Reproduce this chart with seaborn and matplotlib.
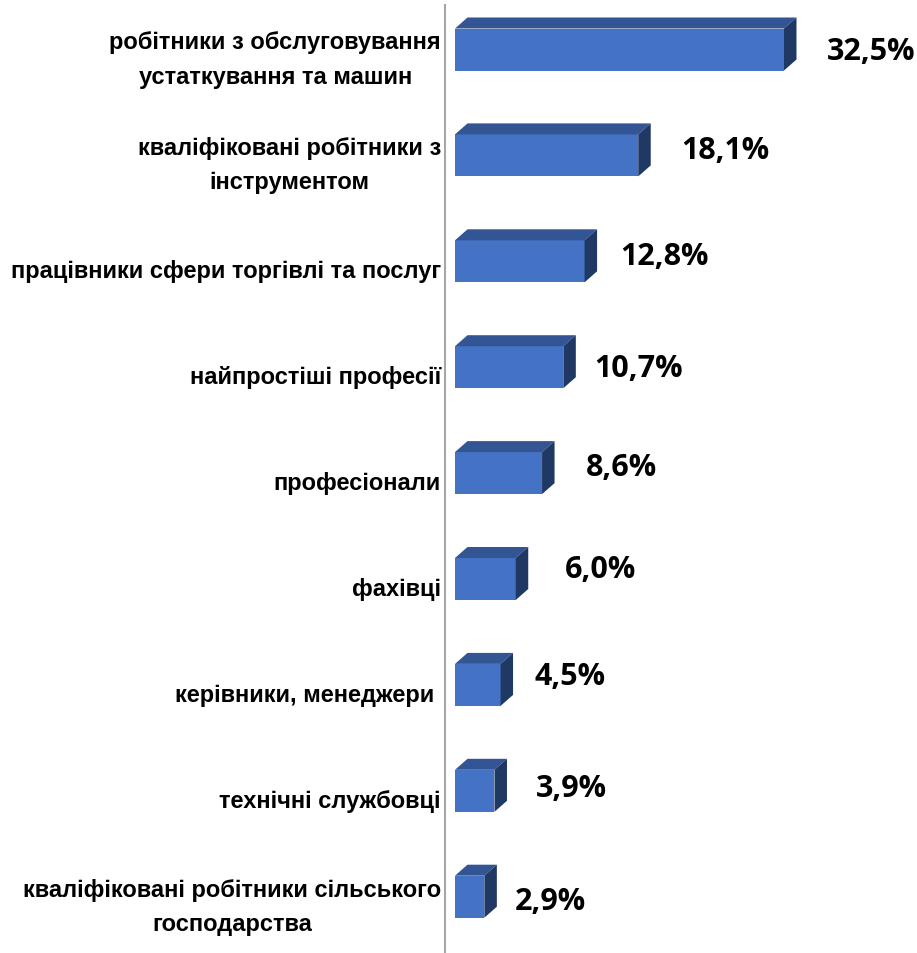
import matplotlib
matplotlib.use("Agg")
import matplotlib.pyplot as plt
from matplotlib.patches import Polygon
from matplotlib.transforms import ScaledTranslation
import seaborn as sns
import pandas as pd

categories = ["робітники з обслуговування\nустаткування та машин",
              "кваліфіковані робітники з\nінструментом",
              "працівники сфери торгівлі та послуг",
              "найпростіші професії",
              "професіонали",
              "фахівці",
              "керівники, менеджери ",
              "технічні службовці",
              "кваліфіковані робітники сільського\nгосподарства"]
values = [32.5, 18.1, 12.8, 10.7, 8.6, 6.0, 4.5, 3.9, 2.9]
value_labels = ["32,5%", "18,1%", "12,8%", "10,7%", "8,6%", "6,0%", "4,5%", "3,9%", "2,9%"]

# label placement relative to the end of each bar, in pixels
label_dx = [43, 43, 35.5, 31, 44, 49, 33.5, 41.5, 30]
label_dy = [-1, 5, 5, -0.5, 6, 10.5, 9, 3, -4]

W, H = 917, 954
X0, LINE_X, TOP = 455, 445, 6      # bar origin, axis line, top of axis line
PX_PER_UNIT = 329 / 32.5
SLOT, FIRST = 105.9, 50.5
DEPTH_X, DEPTH_Y = 12.5, 11
BAR_H = 42

sns.set_theme(style="white")
plt.rcParams['font.family'] = ['Liberation Sans', 'DejaVu Sans']

df = pd.DataFrame({"cat": categories, "val": values})
fig = plt.figure(figsize=(W / 100, H / 100), dpi=100)
ax = fig.add_axes([X0 / W, 0, (W - X0) / W, 1 - TOP / H])
ax.patch.set_alpha(0)
sns.barplot(data=df, y="cat", x="val", color="#4472C4", width=BAR_H / SLOT,
            saturation=1, linewidth=0, ax=ax, orient="h")
ax.set_xlim(0, (W - X0) / PX_PER_UNIT)
ax.set_ylim((H - FIRST) / SLOT, (TOP - FIRST) / SLOT)
ax.set_xlabel("")
ax.set_ylabel("")
ax.set_xticks([])

for name, s in ax.spines.items():
    s.set_visible(name == "left")
ax.spines["left"].set_position(("outward", (X0 - LINE_X) * 0.72))
ax.spines["left"].set_color("#A6A6A6")
ax.spines["left"].set_linewidth(1.5)

ax.tick_params(axis="y", length=0, pad=2.9)
shift = ScaledTranslation(0, -9.5 / 100, fig.dpi_scale_trans)
for lab in ax.get_yticklabels():
    lab.set_fontsize(17)
    lab.set_fontweight("bold")
    lab.set_color("black")
    lab.set_ha("right")
    lab.set_va("center")
    lab.set_multialignment("center")
    lab.set_linespacing(1.62)
    lab.set_transform(lab.get_transform() + shift)

dx = DEPTH_X / PX_PER_UNIT
dy = DEPTH_Y / SLOT
half = BAR_H / SLOT / 2
for i, v in enumerate(values):
    top, bot = i - half, i + half
    ax.add_patch(Polygon([(0, top), (dx, top - dy), (v + dx, top - dy), (v, top)],
                         closed=True, fc="#335593", ec="none"))
    ax.add_patch(Polygon([(v, top), (v + dx, top - dy), (v + dx, bot - dy), (v, bot)],
                         closed=True, fc="#203864", ec="none"))
    ax.annotate(value_labels[i], xy=(v, i), xytext=(label_dx[i] * 0.72, label_dy[i] * 0.72),
                textcoords="offset points", fontsize=22, fontweight="bold",
                family=["Open Sans", "DejaVu Sans"], va="center", ha="left",
                color="black", annotation_clip=False)

fig.savefig("out.png", dpi=100)
